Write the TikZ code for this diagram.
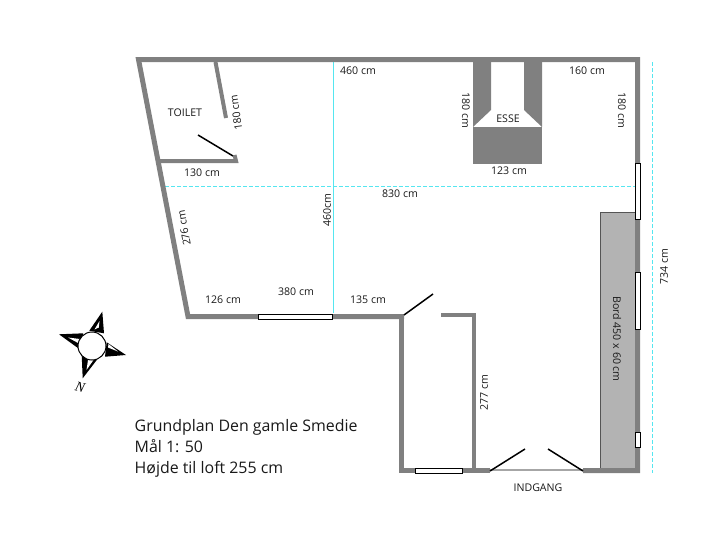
\documentclass[tikz,border=0pt]{standalone}
\usepackage{fontspec}
\setmainfont{Open Sans}
\newfontfamily\serifit{Liberation Serif}
\definecolor{wallgray}{HTML}{808080}
\definecolor{tablegray}{HTML}{B3B3B3}
\definecolor{tableedge}{HTML}{555555}
\definecolor{dimcyan}{HTML}{55E6F0}
\tikzset{
  wall/.style={draw=wallgray,line width=5pt,line cap=butt,line join=miter},
  thinwall/.style={draw=wallgray,line width=4pt,line cap=butt},
  door/.style={draw=black,line width=1.5pt},
  win/.style={draw=black,fill=white,line width=1pt},
  dimline/.style={draw=dimcyan,line width=0.9pt,dash pattern=on 4pt off 2pt},
  lab/.style={font=\fontsize{10.6}{12}\selectfont,inner sep=0pt,text=black!90},
  title/.style={font=\fontsize{15.9}{18}\selectfont,inner sep=0pt,anchor=base west,text=black!90}
}
\begin{document}
\begin{tikzpicture}[x=1pt,y=-1pt]
\useasboundingbox (0,0) rectangle (713,560);
% dimension lines
\draw[dimline] (165,186) -- (636,186);
\draw[draw=dimcyan,line width=1pt] (333.5,62) -- (333.5,313);
\draw[dimline] (652,62) -- (652,473);
% table
\draw[draw=tableedge,fill=tablegray,line width=0.8pt] (600,212) rectangle (635,468);
% outer walls
\draw[wall] (404,316.5) -- (188,316.5) -- (138.5,59.5) -- (637.5,59.5) -- (637.5,470.5) -- (583,470.5);
\draw[wall] (490,470.5) -- (401.5,470.5) -- (401.5,314);
% inner walls
\draw[thinwall] (441,315) -- (474,315) -- (474,469);
\draw[thinwall] (215.5,62) -- (226,118);
\draw[thinwall] (160,161) -- (236,161) -- (234.5,155);
% esse
\path[fill=wallgray] (473,60) -- (491,60) -- (491,110) -- (473,127) -- cycle;
\path[fill=wallgray] (524,60) -- (542,60) -- (542,127) -- (524,110) -- cycle;
\path[fill=wallgray] (473,127) rectangle (542,164);
% windows
\draw[win] (635.5,163) rectangle (640,219);
\draw[win] (635.5,272) rectangle (640,329);
\draw[win] (635.5,432) rectangle (640,447);
\draw[win] (415.5,468.5) rectangle (462,473);
\draw[win] (258.5,314) rectangle (332,319);
% entrance
\path[fill=white] (490,468) rectangle (583,473);
\draw[draw=wallgray!70,line width=2pt] (490,469.5) -- (583,469.5);
% doors
\coordinate (dA1) at (404,315);
\coordinate (dA2) at (433,294);
\coordinate (dB1) at (490,471);
\coordinate (dB2) at (525,449);
\coordinate (dC1) at (583,471);
\coordinate (dC2) at (548,449);
\coordinate (dD1) at (233,156);
\coordinate (dD2) at (198,135);
\draw[door] (dA1) -- (dA2);
\draw[door] (dB1) -- (dB2);
\draw[door] (dC1) -- (dC2);
\draw[door] (dD1) -- (dD2);
% compass
\path[fill=black] (102.3,311.7) -- (89.3,330.7) -- (104,333.3) -- cycle;
\path[fill=white] (99.5,321) -- (94.5,329.5) -- (98.8,327.5) -- cycle;
\path[fill=black] (126,355) -- (106.7,342.3) -- (105,356.7) -- cycle;
\path[fill=white] (118,351.5) -- (108.5,344) -- (108,347.5) -- cycle;
\path[fill=black] (82.7,378.3) -- (81.7,355) -- (97.3,359.3) -- cycle;
\path[fill=white] (86.5,370) -- (88,360) -- (93.5,360) -- cycle;
\path[fill=black] (59,334.3) -- (83.3,333.3) -- (78.3,348.3) -- cycle;
\path[fill=white] (68,337.5) -- (80,339) -- (79,343.5) -- cycle;
\node[circle,draw=black,fill=white,line width=1pt,minimum size=28pt,inner sep=0pt] (compass) at (92,346) {};
\node[inner sep=0pt,rotate=-15,font=\serifit\itshape\fontsize{14}{16}\selectfont] (north) at (80,387) {N};
% labels
\node[lab] (t1) at (358,71) {460 cm};
\node[lab] (t2) at (587,70.5) {160 cm};
\node[lab,rotate=-90] (t3) at (466,110) {180 cm};
\node[lab,rotate=-90] (t4) at (622,110) {180 cm};
\node[lab] (t5) at (508,118.5) {ESSE};
\node[lab] (t6) at (509,170.5) {123 cm};
\node[lab] (t7) at (202,172.5) {130 cm};
\node[lab] (t8) at (185,113) {TOILET};
\node[lab,rotate=98] (t9) at (236,112.7) {180 cm};
\node[lab,rotate=100] (t10) at (184,228) {276 cm};
\node[lab,rotate=90] (t11) at (327,210) {460cm};
\node[lab] (t12) at (400,194) {830 cm};
\node[lab] (t13) at (223,300) {126 cm};
\node[lab] (t14) at (296,292) {380 cm};
\node[lab] (t15) at (368,300) {135 cm};
\node[lab,rotate=90] (t16) at (484,393) {277 cm};
\node[lab,rotate=-90] (t17) at (617,339) {Bord 450 x 60 cm};
\node[lab,rotate=90] (t18) at (664,267) {734 cm};
\node[lab] (t19) at (538,488) {INDGANG};
\node[title] (g1) at (134.5,431.7) {Grundplan Den gamle Smedie};
\node[title] (g2) at (134.5,452.7) {Mål 1: 50};
\node[title] (g3) at (134.5,473.3) {Højde til loft 255 cm};
\end{tikzpicture}
\end{document}
